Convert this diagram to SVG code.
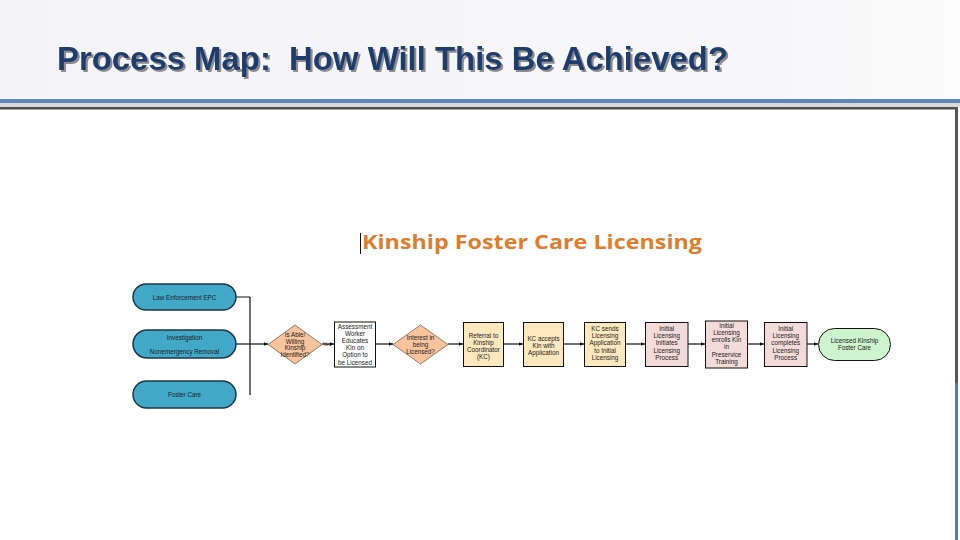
<svg xmlns="http://www.w3.org/2000/svg" width="960" height="540" viewBox="0 0 960 540">
  <defs>
    <linearGradient id="hdr" x1="0" y1="0" x2="1" y2="0">
      <stop offset="0" stop-color="#f4f4f6"/>
      <stop offset="0.8" stop-color="#f7f7f9"/>
      <stop offset="1" stop-color="#fbfbfc"/>
    </linearGradient>
    <filter id="shadow" x="-5%" y="-20%" width="110%" height="150%">
      <feDropShadow dx="2" dy="2" stdDeviation="0.4" flood-color="#8c8c8c" flood-opacity="1"/>
    </filter>
    <marker id="arr" markerWidth="5" markerHeight="5" refX="4.5" refY="2.5" orient="auto" markerUnits="userSpaceOnUse">
      <path d="M0,0.5 L4.5,2.5 L0,4.5 Z" fill="#111"/>
    </marker>
    <style>
      .t { font-family: "Liberation Sans", Arial, sans-serif; font-size: 6.3px; fill: #222; text-anchor: middle; }
      .ov { fill: #41a8c8; stroke: #1b3846; stroke-width: 1.5; }
      .dm { fill: #f8c49c; stroke: #7a6250; stroke-width: 0.8; }
      .bw { fill: #ffffff; stroke: #111; stroke-width: 1; }
      .by { fill: #fde8bd; stroke: #111; stroke-width: 1; }
      .bp { fill: #f2dbd9; stroke: #111; stroke-width: 1; }
      .bg { fill: #cdf4cd; stroke: #111; stroke-width: 1; }
      .cn { fill: none; stroke: #111; stroke-width: 1.2; }
      .ca { marker-end: url(#arr); }
    </style>
  </defs>

  <!-- Slide background -->
  <rect x="0" y="0" width="960" height="540" fill="#ffffff"/>
  <rect x="0" y="0" width="960" height="99" fill="url(#hdr)"/>
  <rect x="0" y="99" width="960" height="4" fill="#5b88ba"/>
  <rect x="0" y="103" width="960" height="4" fill="#d9d9d9"/>
  <rect x="0" y="107" width="958" height="2.5" fill="#4d4d4d"/>
  <rect x="955" y="107" width="3" height="276" fill="#555555"/>
  <rect x="955" y="383" width="3" height="157" fill="#5a78a0"/>

  <!-- Title -->
  <text x="57" y="70" xml:space="preserve" font-family="'Liberation Sans Narrow', 'Liberation Sans', Arial, sans-serif" font-weight="bold" font-size="33" fill="#1f3d6e" filter="url(#shadow)" textLength="671" lengthAdjust="spacingAndGlyphs">Process Map:  How Will This Be Achieved?</text>

  <!-- Subtitle -->
  <line x1="360.5" y1="233" x2="360.5" y2="254" stroke="#111" stroke-width="1"/>
  <text x="362" y="249" font-family="'Open Sans', 'Liberation Sans', sans-serif" font-weight="bold" font-size="19" fill="#e07c2c" textLength="340" lengthAdjust="spacingAndGlyphs">Kinship Foster Care Licensing</text>

  <!-- Connectors -->
  <g id="connectors">
    <path class="cn" d="M236,297 H250 M250,297 V395"/>
    <path class="cn ca" d="M236,344 H268"/>
    <path class="cn ca" d="M322,344 H334"/>
    <text x="327" y="346" font-family="'Liberation Sans', Arial, sans-serif" font-size="5" fill="#222" text-anchor="middle">Yes</text>
    <path class="cn ca" d="M375,344 H393"/>
    <path class="cn ca" d="M448,344 H463"/>
    <path class="cn ca" d="M503,344 H523"/>
    <path class="cn ca" d="M563,344 H584"/>
    <path class="cn ca" d="M625,344 H645"/>
    <path class="cn ca" d="M688,344 H705"/>
    <path class="cn ca" d="M747,344 H764"/>
    <path class="cn ca" d="M807,344 H818"/>
  </g>

  <!-- Start ovals -->
  <g id="law-enforcement">
    <rect class="ov" x="133" y="284" width="103" height="26" rx="13"/>
    <text class="t" x="184.5" y="299.5">Law Enforcement EPC</text>
  </g>
  <g id="investigation">
    <rect class="ov" x="133" y="330" width="103" height="28" rx="14"/>
    <text class="t" x="184.5" y="339.5">Investigation</text>
    <text class="t" x="184.5" y="353.5">Nonemergency Removal</text>
  </g>
  <g id="foster-care">
    <rect class="ov" x="133" y="381" width="103" height="27" rx="13.5"/>
    <text class="t" x="184.5" y="397">Foster Care</text>
  </g>

  <!-- Decision 1 -->
  <g id="decision-kinship">
    <polygon class="dm" points="268,344.5 295,325 322,344.5 295,364"/>
    <text class="t" x="295" y="337">Is Able/</text>
    <text class="t" x="295" y="343.7">Willing</text>
    <text class="t" x="295" y="350.4">Kinship</text>
    <text class="t" x="295" y="357.1">Identified?</text>
  </g>

  <!-- Box 2 -->
  <g id="assessment-worker">
    <rect class="bw" x="334.5" y="322" width="41" height="45"/>
    <text class="t" x="355" y="328.5">Assessment</text>
    <text class="t" x="355" y="335.7">Worker</text>
    <text class="t" x="355" y="342.9">Educates</text>
    <text class="t" x="355" y="350.1">Kin on</text>
    <text class="t" x="355" y="357.3">Option to</text>
    <text class="t" x="355" y="364.5">be Licensed</text>
  </g>

  <!-- Decision 2 -->
  <g id="decision-interest">
    <polygon class="dm" points="393,344.5 420.5,325 448,344.5 420.5,364"/>
    <text class="t" x="420.5" y="340">Interest in</text>
    <text class="t" x="420.5" y="347">being</text>
    <text class="t" x="420.5" y="354">Licensed?</text>
  </g>

  <!-- Box 3 -->
  <g id="referral-kc">
    <rect class="by" x="463.5" y="322.5" width="40" height="44"/>
    <text class="t" x="483.5" y="337.5">Referral to</text>
    <text class="t" x="483.5" y="344.5">Kinship</text>
    <text class="t" x="483.5" y="351.5">Coordinator</text>
    <text class="t" x="483.5" y="358.5">(KC)</text>
  </g>

  <!-- Box 4 -->
  <g id="kc-accepts">
    <rect class="by" x="523.5" y="322.5" width="40" height="44"/>
    <text class="t" x="543.5" y="340.5">KC accepts</text>
    <text class="t" x="543.5" y="347.5">Kin with</text>
    <text class="t" x="543.5" y="354.5">Application</text>
  </g>

  <!-- Box 5 -->
  <g id="kc-sends">
    <rect class="by" x="584.5" y="322.5" width="41" height="44"/>
    <text class="t" x="605" y="331">KC sends</text>
    <text class="t" x="605" y="338.2">Licensing</text>
    <text class="t" x="605" y="345.4">Application</text>
    <text class="t" x="605" y="352.6">to Initial</text>
    <text class="t" x="605" y="359.8">Licensing</text>
  </g>

  <!-- Box 6 -->
  <g id="initial-initiates">
    <rect class="bp" x="645.5" y="322.5" width="42.5" height="44"/>
    <text class="t" x="666.7" y="331">Initial</text>
    <text class="t" x="666.7" y="338.2">Licensing</text>
    <text class="t" x="666.7" y="345.4">Initiates</text>
    <text class="t" x="666.7" y="352.6">Licensing</text>
    <text class="t" x="666.7" y="359.8">Process</text>
  </g>

  <!-- Box 7 -->
  <g id="initial-enrolls">
    <rect class="bp" x="705.5" y="321" width="42" height="47"/>
    <text class="t" x="726.5" y="327.5">Initial</text>
    <text class="t" x="726.5" y="334.8">Licensing</text>
    <text class="t" x="726.5" y="342.1">enrolls Kin</text>
    <text class="t" x="726.5" y="349.4">in</text>
    <text class="t" x="726.5" y="356.7">Preservice</text>
    <text class="t" x="726.5" y="364">Training</text>
  </g>

  <!-- Box 8 -->
  <g id="initial-completes">
    <rect class="bp" x="764.5" y="322.5" width="42.5" height="44"/>
    <text class="t" x="785.7" y="331">Initial</text>
    <text class="t" x="785.7" y="338.2">Licensing</text>
    <text class="t" x="785.7" y="345.4">completes</text>
    <text class="t" x="785.7" y="352.6">Licensing</text>
    <text class="t" x="785.7" y="359.8">Process</text>
  </g>

  <!-- Terminal -->
  <g id="licensed-kinship">
    <rect class="bg" x="818.5" y="328.5" width="72" height="32" rx="16"/>
    <text class="t" x="854.5" y="343">Licensed Kinship</text>
    <text class="t" x="854.5" y="350">Foster Care</text>
  </g>
</svg>
